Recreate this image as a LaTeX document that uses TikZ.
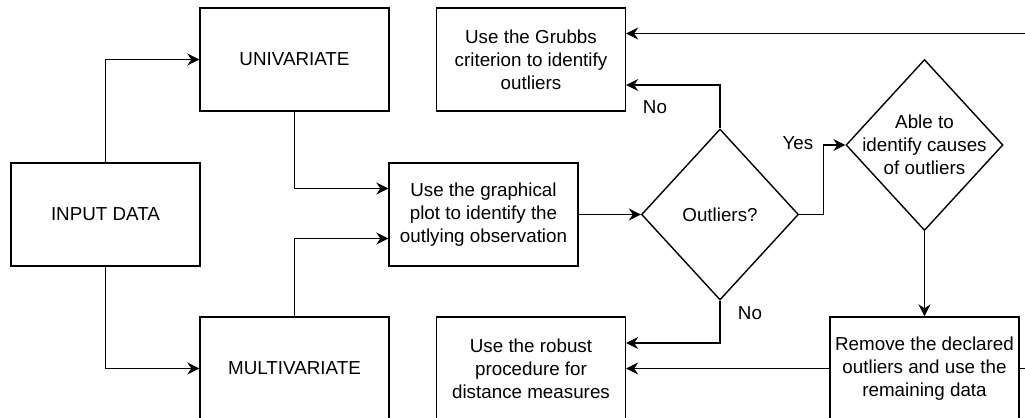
\documentclass[tikz,border=0pt]{standalone}
\usepackage{fontspec}
\setmainfont{Liberation Sans}
\usepackage{tikz}
\usetikzlibrary{arrows.meta,positioning,shapes.geometric,calc}
\tikzstyle{block}=[draw,rectangle,minimum width=94.5pt,minimum height=51.5pt,inner sep=0pt,align=center]
\tikzstyle{decision}=[draw,diamond,minimum width=78.5pt,minimum height=85.5pt,inner sep=0pt]
\tikzstyle{flow}=[draw,-{Stealth[length=6pt,width=6pt,inset=2pt]}]

\begin{document}
\begin{tikzpicture}[
  x=0.5pt,y=-0.5pt,
  line width=0.7pt,
  font=\fontsize{9.4}{11.5}\selectfont
]
\clip (0,0) rectangle (1025,418);
\useasboundingbox (0,0) rectangle (1025,418);

% left part
\node [block] (input) at (105.5,214.5) {INPUT DATA};
\node [block] (uni) at (294.5,59.5) {UNIVARIATE};
\node [block] (multi) at (294.5,368.5) {MULTIVARIATE};
\node [block] (graph) at (483.5,214.5) {Use the graphical\\plot to identify the\\outlying observation};

% decisions
\node [decision, label={[align=center]center:Outliers?}] (outl) at (720,214.5) {};
\node [decision, label={[align=center]center:Able to\\identify causes\\of outliers}] (able) at (924.5,145) {};

% results
\node [block] (grubbs) at (531,59.5) {Use the Grubbs\\criterion to identify\\outliers};
\node [block] (robust) at (531,368.5) {Use the robust\\procedure for\\distance measures};
\node [block] (remove) at (924.5,368.5) {Remove the declared\\outliers and use the\\remaining data};

\coordinate (loop) at (1045,368.5);

\path [flow] (input.north) |- (uni.west);
\path [flow] (input.south) |- (multi.west);
\path [flow] (uni.south) |- ([yshift=13pt]graph.west);
\path [flow] (multi.north) |- ([yshift=-12pt]graph.west);
\path [flow] (graph.east) -- (outl.west);
\path [flow] (outl.north) |- ([yshift=-12.75pt]grubbs.east);
\path [flow] (outl.east) -- ++(24,0) |- (able.west);
\path [flow] (outl.south) |- ([yshift=12.75pt]robust.east);
\path [flow] (able.south) -- (remove.north);
\path [flow] (remove.west) -- (robust.east);
\path [flow] (remove.east) -- (loop) |- ([yshift=13pt]grubbs.east);

\node (no1) at (655,107) {No};
\node (yes) at (798,143) {Yes};
\node (no2) at (750,313) {No};

\end{tikzpicture}
\end{document}
